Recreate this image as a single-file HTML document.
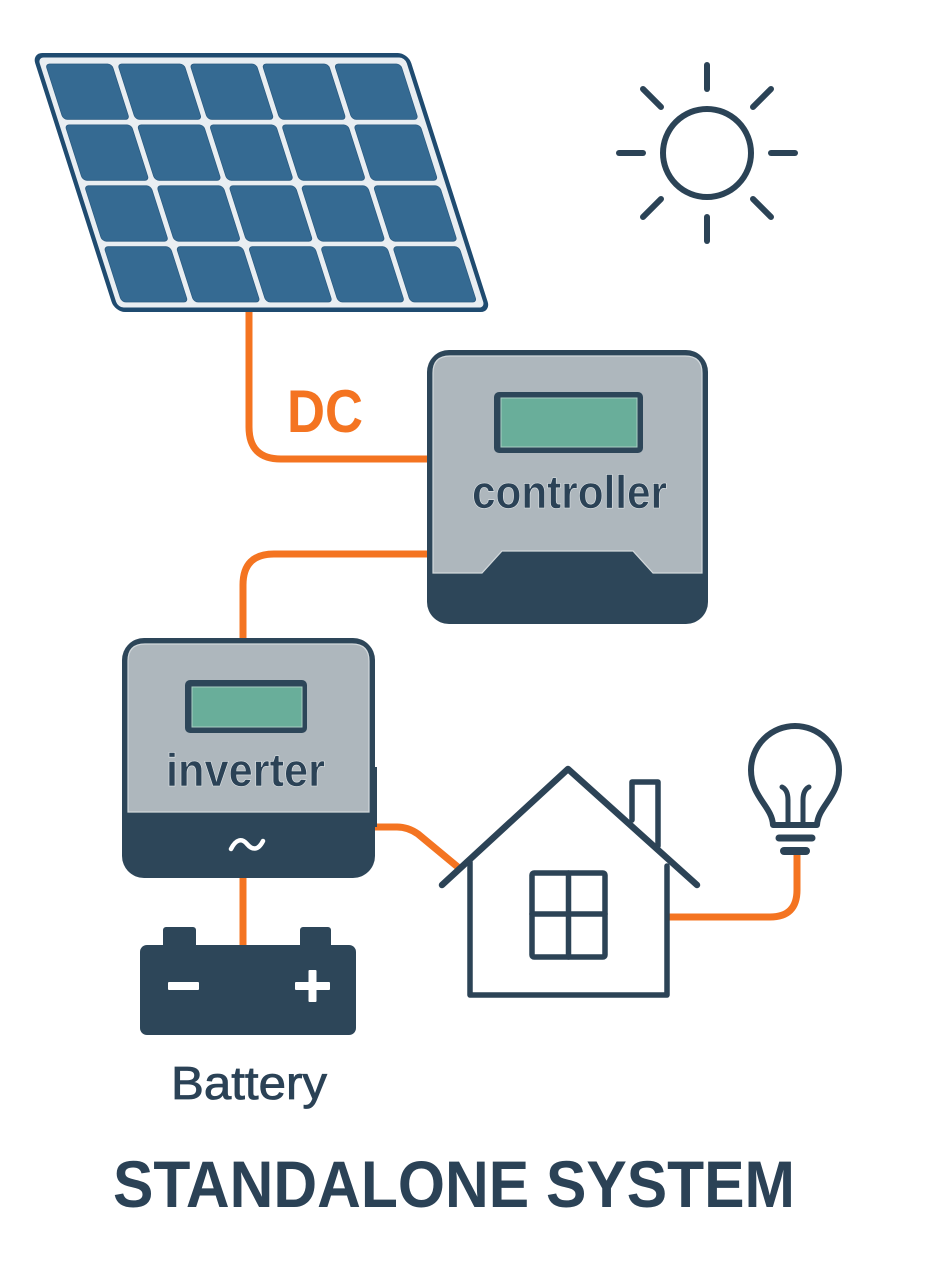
<!DOCTYPE html>
<html>
<head>
<meta charset="utf-8">
<style>
html,body{margin:0;padding:0;background:#ffffff;}
svg{display:block;}
</style>
</head>
<body>
<svg width="927" height="1273" viewBox="0 0 927 1273" xmlns="http://www.w3.org/2000/svg">
<rect x="0" y="0" width="927" height="1273" fill="#ffffff"/>

<!-- cables -->
<g fill="none" stroke="#f47421" stroke-width="7" stroke-linejoin="round">
  <path d="M249 310 L249 427 Q249 459 281 459 L430 459"/>
  <path d="M430 554 L274 554 Q243 554 243 585 L243 640"/>
  <path d="M243 876 L243 947"/>
  <path d="M375 827 L397 827 Q408 827 418 834 L459 868"/>
  <path d="M666 917 L770 917 Q797 917 797 890 L797 852"/>
</g>

<!-- solar panel -->
<g transform="matrix(1,0,0.32,1,32,53)">
  <rect x="2.2" y="2.2" width="371.6" height="254.6" rx="8" fill="#e9eef2" stroke="#1f4b70" stroke-width="4.5"/>
  <g fill="#356a92" stroke="#2a5a80" stroke-width="0.8">
    <rect x="10" y="11" width="66.2" height="55.4" rx="4"/>
    <rect x="82.2" y="11" width="66.2" height="55.4" rx="4"/>
    <rect x="154.4" y="11" width="66.2" height="55.4" rx="4"/>
    <rect x="226.6" y="11" width="66.2" height="55.4" rx="4"/>
    <rect x="298.8" y="11" width="66.2" height="55.4" rx="4"/>

    <rect x="10" y="71.9" width="66.2" height="55.4" rx="4"/>
    <rect x="82.2" y="71.9" width="66.2" height="55.4" rx="4"/>
    <rect x="154.4" y="71.9" width="66.2" height="55.4" rx="4"/>
    <rect x="226.6" y="71.9" width="66.2" height="55.4" rx="4"/>
    <rect x="298.8" y="71.9" width="66.2" height="55.4" rx="4"/>

    <rect x="10" y="132.8" width="66.2" height="55.4" rx="4"/>
    <rect x="82.2" y="132.8" width="66.2" height="55.4" rx="4"/>
    <rect x="154.4" y="132.8" width="66.2" height="55.4" rx="4"/>
    <rect x="226.6" y="132.8" width="66.2" height="55.4" rx="4"/>
    <rect x="298.8" y="132.8" width="66.2" height="55.4" rx="4"/>

    <rect x="10" y="193.7" width="66.2" height="55.3" rx="4"/>
    <rect x="82.2" y="193.7" width="66.2" height="55.3" rx="4"/>
    <rect x="154.4" y="193.7" width="66.2" height="55.3" rx="4"/>
    <rect x="226.6" y="193.7" width="66.2" height="55.3" rx="4"/>
    <rect x="298.8" y="193.7" width="66.2" height="55.3" rx="4"/>
  </g>
</g>

<!-- sun -->
<g stroke="#2b4356" stroke-width="6" stroke-linecap="round" fill="none">
  <circle cx="707" cy="153" r="44"/>
  <line x1="707" y1="65" x2="707" y2="89"/>
  <line x1="707" y1="217" x2="707" y2="241"/>
  <line x1="619" y1="153" x2="643" y2="153"/>
  <line x1="771" y1="153" x2="795" y2="153"/>
  <line x1="643" y1="89" x2="661" y2="107"/>
  <line x1="771" y1="89" x2="753" y2="107"/>
  <line x1="643" y1="217" x2="661" y2="199"/>
  <line x1="771" y1="217" x2="753" y2="199"/>
</g>

<!-- DC label -->
<text x="287" y="432" font-family="'Liberation Sans', Arial, sans-serif" font-weight="bold" font-size="60" fill="#f47421" textLength="76" lengthAdjust="spacingAndGlyphs">DC</text>

<!-- controller -->
<rect x="427" y="350" width="281" height="274" rx="22" fill="#2d4659"/>
<path d="M433 573 L433 373 Q433 356 450 356 L685 356 Q702 356 702 373 L702 573 L653 573 L633 551 L502 551 L482 573 Z" fill="#aeb7bd" stroke="#d3d9dc" stroke-width="1.2"/>
<rect x="494" y="392" width="149" height="61" rx="5" fill="#2d4659"/>
<rect x="501" y="398" width="136" height="49" fill="#69ae9a" stroke="#a9cfc2" stroke-width="1"/>
<text x="472" y="508" font-family="'Liberation Sans', Arial, sans-serif" font-weight="bold" font-size="46" fill="#2b4256" stroke="#dfe4e6" stroke-width="0.6" textLength="195" lengthAdjust="spacingAndGlyphs">controller</text>

<!-- inverter -->
<rect x="122" y="638" width="253" height="240" rx="22" fill="#2d4659"/>
<rect x="371" y="767" width="6" height="60" fill="#2d4659"/>
<path d="M128 812 L128 661 Q128 644 145 644 L352 644 Q369 644 369 661 L369 812 Z" fill="#aeb7bd" stroke="#d3d9dc" stroke-width="1.2"/>
<rect x="185" y="680" width="122" height="53" rx="5" fill="#2d4659"/>
<rect x="192" y="687" width="110" height="40" fill="#69ae9a" stroke="#a9cfc2" stroke-width="1"/>
<text x="166" y="786" font-family="'Liberation Sans', Arial, sans-serif" font-weight="bold" font-size="46" fill="#2b4256" stroke="#dfe4e6" stroke-width="0.6" textLength="159" lengthAdjust="spacingAndGlyphs">inverter</text>
<path d="M231 849 C236 839 242 838 247 844 C252 850 258 851 263 841" fill="none" stroke="#ffffff" stroke-width="4.5" stroke-linecap="round"/>

<!-- battery -->
<rect x="163" y="927" width="33" height="24" rx="3" fill="#2d4659"/>
<rect x="300" y="927" width="31" height="24" rx="3" fill="#2d4659"/>
<rect x="140" y="945" width="216" height="90" rx="7" fill="#2d4659"/>
<rect x="168" y="982" width="31" height="8" rx="1" fill="#ffffff"/>
<rect x="295" y="982" width="35" height="8" rx="1" fill="#ffffff"/>
<rect x="308.5" y="970" width="8" height="32" rx="1" fill="#ffffff"/>
<text x="171" y="1099" font-family="'Liberation Sans', Arial, sans-serif" font-size="46" fill="#2b4256" stroke="#2b4256" stroke-width="0.8" textLength="156" lengthAdjust="spacingAndGlyphs">Battery</text>

<!-- house -->
<g fill="none" stroke="#2c4356" stroke-linecap="round" stroke-linejoin="round">
  <path d="M442 885 L568 769 L697 885" stroke-width="6.5"/>
  <path d="M470 862 L470 995 L667 995 L667 866" stroke-width="5.5"/>
  <path d="M632 820 L632 782 L658 782 L658 846" stroke-width="5.5"/>
  <rect x="532" y="873" width="73" height="84" rx="2" stroke-width="5.5"/>
  <line x1="568.5" y1="873" x2="568.5" y2="957" stroke-width="5.5"/>
  <line x1="532" y1="914" x2="605" y2="914" stroke-width="5.5"/>
</g>

<!-- light bulb -->
<g fill="none" stroke="#2c4356" stroke-linecap="round" stroke-linejoin="round">
  <path d="M773 825 C772 806 751 797 751 770 A44 44 0 1 1 839 770 C839 797 818 806 817 825 Z" stroke-width="6"/>
  <path d="M782 787 Q788 790 788 800 L788 824" stroke-width="5"/>
  <path d="M809 787 Q803 790 803 800 L803 824" stroke-width="5"/>
  <line x1="779" y1="838" x2="812" y2="838" stroke-width="7"/>
  <line x1="784" y1="851" x2="806" y2="851" stroke-width="8"/>
</g>

<!-- title -->
<text x="113" y="1207" font-family="'Liberation Sans', Arial, sans-serif" font-weight="bold" font-size="66" fill="#2b4256" textLength="682" lengthAdjust="spacingAndGlyphs">STANDALONE SYSTEM</text>
</svg>
</body>
</html>
